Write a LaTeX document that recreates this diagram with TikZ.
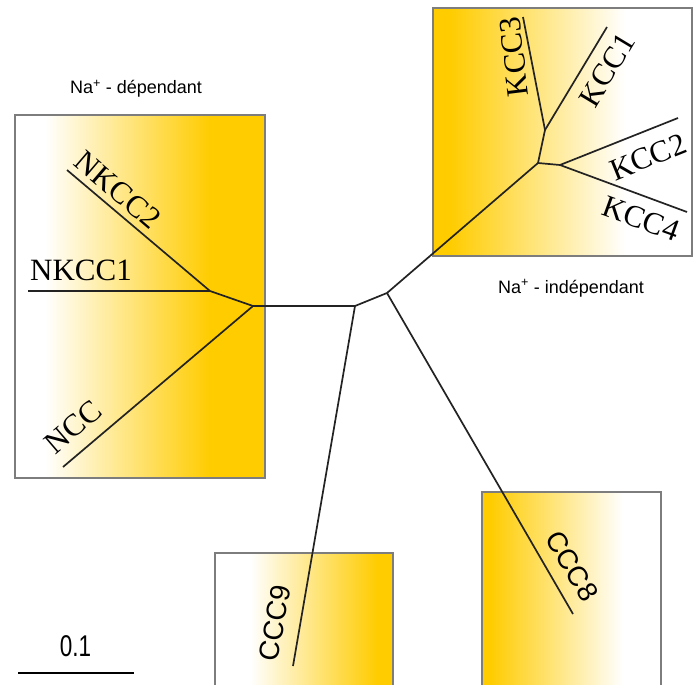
\documentclass[tikz,border=0pt]{standalone}
\usepackage{fontspec}
\setmainfont{Liberation Serif}
\setsansfont{Liberation Sans}
\definecolor{gold}{RGB}{255,204,0}
\definecolor{branchcol}{RGB}{35,35,35}
\definecolor{boxcol}{RGB}{125,125,125}
\begin{document}
\begin{tikzpicture}[x=1pt,y=-1pt,
  branch/.style={draw=branchcol, line width=1.7pt, line join=round},
  boxline/.style={draw=boxcol, line width=1.4pt},
  leaf/.style={font=\fontsize{31}{31}\selectfont, inner sep=0pt, text=black},
  cccleaf/.style={font=\sffamily\fontsize{28}{28}\selectfont, inner sep=0pt, text=black},
  grp/.style={font=\sffamily\fontsize{18}{18}\selectfont, inner sep=0pt, anchor=base}]
\useasboundingbox (0,0) rectangle (694,685);
\clip (0,0) rectangle (694,685);
\fill[white] (0,0) rectangle (694,685);

% boxes
\shade[left color=white, right color=gold] (45,115) rectangle (210,478);
\fill[gold] (210,115) rectangle (265,478);
\draw[boxline] (15,115) rectangle (265,478);

\fill[gold] (433,8) rectangle (450,256);
\shade[left color=gold, right color=white] (450,8) rectangle (625,256);
\draw[boxline] (433,8) rectangle (692,256);

\shade[left color=white, right color=gold] (250,553) rectangle (377,700);
\fill[gold] (377,553) rectangle (393,700);
\draw[boxline] (215,553) rectangle (393,700);

\fill[gold] (482,492) rectangle (490,700);
\shade[left color=gold, right color=white] (490,492) rectangle (623,700);
\draw[boxline] (482,492) rectangle (661,700);

% tree
\coordinate (A) at (253,306);
\coordinate (B) at (210,291);
\coordinate (C) at (355,306);
\coordinate (D) at (387,293);
\coordinate (E) at (538,163);
\coordinate (F) at (545,130);
\coordinate (G) at (560,165);
\coordinate (lnkcc1) at (28,291);
\coordinate (lnkcc2) at (67,170);
\coordinate (lncc) at (63,467);
\coordinate (lccc9) at (293,666);
\coordinate (lccc8) at (573,614);
\coordinate (lkcc3) at (523,17);
\coordinate (lkcc1) at (607,27);
\coordinate (lkcc2) at (678,118);
\coordinate (lkcc4) at (687,212);

\draw[branch] (lnkcc1) -- (B);
\draw[branch] (lnkcc2) -- (B);
\draw[branch] (B) -- (A);
\draw[branch] (lncc) -- (A);
\draw[branch] (A) -- (C);
\draw[branch] (C) -- (lccc9);
\draw[branch] (C) -- (D);
\draw[branch] (D) -- (lccc8);
\draw[branch] (D) -- (E);
\draw[branch] (E) -- (F);
\draw[branch] (F) -- (lkcc3);
\draw[branch] (F) -- (lkcc1);
\draw[branch] (E) -- (G);
\draw[branch] (G) -- (lkcc2);
\draw[branch] (G) -- (lkcc4);

% leaf labels
\node[leaf, rotate=-40.5] (tnkcc2) at (118,190) {NKCC2};
\node[leaf] (tnkcc1) at (81,270) {NKCC1};
\node[leaf, rotate=40.6] (tncc) at (73,427) {NCC};
\node[leaf, rotate=97] (tkcc3) at (514,57) {KCC3};
\node[leaf, rotate=59] (tkcc1) at (607,70) {KCC1};
\node[leaf, rotate=22] (tkcc2) at (648,157) {KCC2};
\node[leaf, rotate=-20] (tkcc4) at (641,219) {KCC4};
\node[cccleaf, rotate=80] (tccc9) at (275,623) {CCC9};
\node[cccleaf, rotate=-59] (tccc8) at (572,566) {CCC8};

% group labels
\node[grp] (gdep) at (136,94) {Na\textsuperscript{+} - dépendant};
\node[grp] (gindep) at (571,293) {Na\textsuperscript{+} - indépendant};

% scale bar
\coordinate (s1) at (18,673);
\coordinate (s2) at (134,673);
\draw[line width=1.7pt] (s1) -- (s2);
\node[font=\sffamily\fontsize{30}{30}\selectfont, inner sep=0pt] (scl) at (75.5,646) {\scalebox{0.75}[1]{0.1}};
\end{tikzpicture}
\end{document}
